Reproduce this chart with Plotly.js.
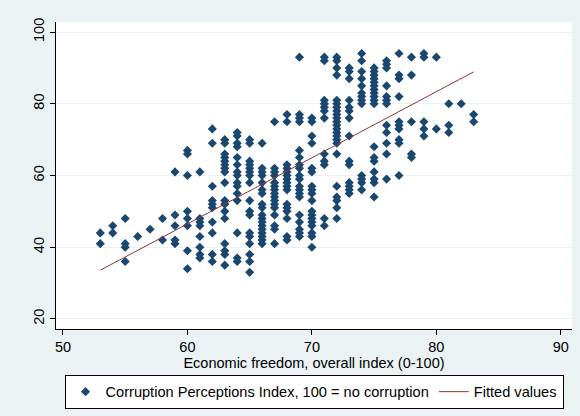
<!DOCTYPE html>
<html>
<head>
<meta charset="utf-8">
<script src="https://cdn.plot.ly/plotly-3.0.1.min.js"></script>
<style>html,body{margin:0;padding:0;background:#eaf2f3;}#chart{width:580px;height:416px;}</style>
</head>
<body>
<div id="chart"></div>
<script>
// Economic freedom index values (x) and CPI values observed at each of them
const econFreedom = [53,54,55,56,57,58,59,60,61,62,63,64,65,66,67,68,69,70,71,72,73,74,75,76,77,78,79,80,81,82,83];
const cpiAtFreedom = [
  [44,41],
  [46,44],
  [48,41,40,36],
  [43],
  [45],
  [48,42],
  [61,49,46,42,41],
  [67,66,60,50,48,46,39,34],
  [61,48,47,46,43,40,38,37],
  [73,69,57,53,52,51,47,44,38,36],
  [70,69,66,65,64,63,62,61,58,53,52,50,48,41,39,38,35],
  [72,71,69,68,65,63,61,60,58,57,55,53,44,37,36],
  [70,69,64,63,62,61,60,58,53,50,49,44,43,41,38,36,33],
  [69,62,61,60,58,56,55,52,51,49,48,47,46,45,44,43,42,41],
  [75,62,61,60,58,57,56,55,54,53,52,51,49,46,45,41],
  [77,75,63,62,61,60,59,58,57,56,52,51,50,48,43,42],
  [93,77,76,75,67,65,63,62,60,59,57,56,55,54,49,47,45,44,43],
  [76,75,71,69,62,61,57,56,55,53,50,49,48,47,46,44,43,40],
  [93,92,81,80,79,78,76,66,64,63,48,46],
  [93,92,90,88,81,80,79,78,77,76,75,74,73,72,71,70,69,66,57,54,53,51,48],
  [90,89,87,81,79,78,76,71,64,63,58,57,56,55],
  [94,92,89,87,85,83,82,81,80,60,59,58,56],
  [90,89,88,87,86,85,84,83,82,81,80,68,65,64,61,59,58,54],
  [92,91,90,85,82,81,80,74,72,69,66,59],
  [94,88,87,82,75,74,73,70,69,60],
  [93,88,75,66,65],
  [94,93,75,73,71],
  [93,73],
  [80,74,72],
  [80],
  [77,75]
];
// Fitted values line
const fitX = [53, 83];
const fitY = [33.6, 88.9];
const yTicks = [20, 40, 60, 80, 100];
const xTicks = [50, 60, 70, 80, 90];

const px = [], py = [];
econFreedom.forEach((f, i) => cpiAtFreedom[i].forEach(v => { px.push(f); py.push(v); }));

const font = 'Liberation Sans, Arial, sans-serif';
const traces = [
  {x: px, y: py, type: 'scatter', mode: 'markers',
   name: 'Corruption Perceptions Index, 100 = no corruption',
   marker: {symbol: 'diamond', size: 7, color: '#1a476f'}},
  {x: fitX, y: fitY, type: 'scatter', mode: 'lines', name: 'Fitted values',
   line: {color: '#90353b', width: 1}}
];
const layout = {
  width: 580, height: 416,
  margin: {l: 56, r: 8, t: 22, b: 86},
  paper_bgcolor: '#eaf2f3', plot_bgcolor: '#ffffff',
  font: {family: font, size: 14.5, color: '#000'},
  showlegend: true,
  xaxis: {range: [49.44, 90.9], tickvals: xTicks, ticks: 'outside', ticklen: 5,
          tickcolor: '#000', showgrid: false, zeroline: false, showline: true,
          linecolor: '#000', linewidth: 1, tickfont: {size: 14.5},
          title: {text: 'Economic freedom, overall index (0-100)', font: {size: 14.5}, standoff: 0}},
  yaxis: {range: [17.2, 102.8], tickvals: yTicks, ticks: 'outside', ticklen: 5,
          tickcolor: '#000', tickangle: -90, showgrid: true, gridcolor: '#eaf2f3',
          zeroline: false, showline: true, linecolor: '#000', linewidth: 1,
          tickfont: {size: 14.5}},
  legend: {orientation: 'h', x: 0.5, xanchor: 'center', y: -0.145, yanchor: 'top',
           bgcolor: '#ffffff', bordercolor: '#000', borderwidth: 1, itemwidth: 30,
           font: {size: 14.6}, traceorder: 'normal'}
};
Plotly.newPlot('chart', traces, layout, {displayModeBar: false, staticPlot: true});
</script>
</body>
</html>
